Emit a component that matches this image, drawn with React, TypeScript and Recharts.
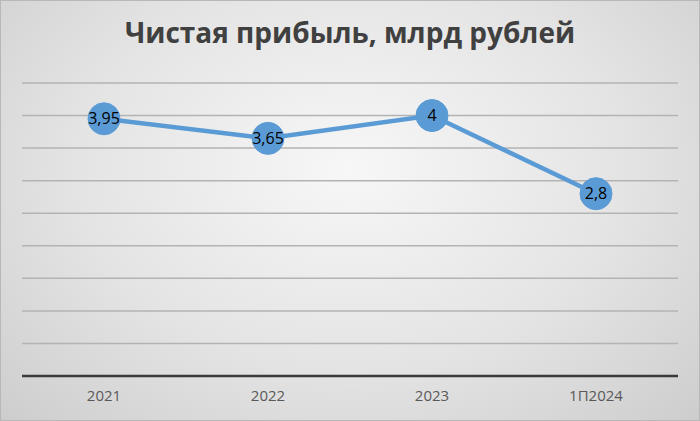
import { LineChart, Line, XAxis, YAxis, CartesianGrid, LabelList } from 'recharts';

const categories = ['2021', '2022', '2023', '1П2024'];
const profit = [3.95, 3.65, 4, 2.8];
const yTicks = [0, 0.5, 1, 1.5, 2, 2.5, 3, 3.5, 4, 4.5];

const data = categories.map((year, i) => ({ year, value: profit[i] }));

const fmt = (v: number) => String(v).replace('.', ',');

export default function App() {
    return (
        <div
            style={{
                position: 'absolute',
                left: 0,
                top: 0,
                width: 700,
                height: 421,
                background: 'radial-gradient(ellipse at 50% 40%, #f7f7f7 0%, #e4e4e4 55%, #cdcdcd 100%)',
                boxShadow: 'inset 0 0 0 1px #b8b8b8',
                fontFamily: '"Open Sans", sans-serif',
            }}
        >
            <div
                style={{
                    position: 'absolute',
                    top: 13,
                    width: 700,
                    textAlign: 'center',
                    fontSize: 28,
                    fontWeight: 700,
                    color: '#404040',
                }}
            >
                Чистая прибыль, млрд рублей
            </div>
            <LineChart width={700} height={421} data={data} margin={{ top: 83, right: 22, bottom: 15, left: 22 }}>
                <CartesianGrid horizontal vertical={false} stroke="#b3b3b3" strokeWidth={1.5} />
                <XAxis
                    dataKey="year"
                    padding={{ left: 82, right: 82 }}
                    axisLine={{ stroke: '#3a3a3a', strokeWidth: 2.5 }}
                    tickLine={false}
                    tick={{ fill: '#595959', fontSize: 15 }}
                    height={30}
                    dy={6}
                />
                <YAxis hide domain={[0, 4.5]} ticks={yTicks} />
                <Line
                    dataKey="value"
                    type="linear"
                    stroke="#5b9bd5"
                    strokeWidth={4.5}
                    dot={{ r: 16, fill: '#5b9bd5', stroke: '#5b9bd5', strokeWidth: 1 }}
                    isAnimationActive={false}
                >
                    <LabelList
                        dataKey="value"
                        position="center"
                        formatter={(v: any) => fmt(Number(v))}
                        style={{ fill: '#000000', fontSize: 16 }}
                    />
                </Line>
            </LineChart>
        </div>
    );
}
